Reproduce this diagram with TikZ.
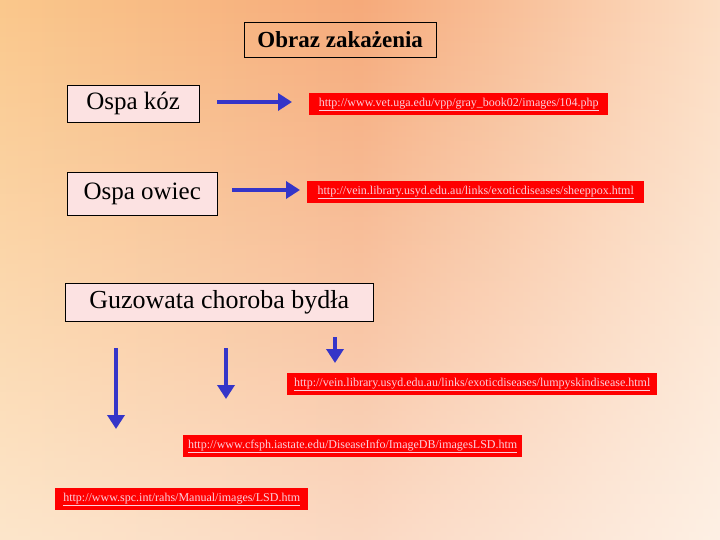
\documentclass[tikz,border=0pt]{standalone}
\usepackage{fontspec}
\setmainfont{Liberation Serif}
\usetikzlibrary{fadings,arrows.meta}
\definecolor{arr}{HTML}{3535C8}
\definecolor{lbl}{HTML}{FCE2E2}
\definecolor{urlc}{HTML}{FAD0DC}
\tikzset{
 lab/.style={draw=black,fill=lbl,font=\fontsize{25}{27}\selectfont,inner sep=0pt,anchor=north west},
 url/.style={fill=red,text=urlc,font=\fontsize{12}{14}\selectfont,inner sep=0pt,anchor=north west},
 arrw/.style={draw=arr,line width=4pt,-{Triangle[length=14pt,width=17pt]}},
}
\newcommand{\ul}[1]{\underline{#1}}
\begin{document}
\begin{tikzpicture}[x=1pt,y=-1pt]
\useasboundingbox (0,0) rectangle (720,540);
\fill[left color={rgb,255:red,250;green,200;blue,140},right color={rgb,255:red,252;green,222;blue,196},middle color={rgb,255:red,246;green,170;blue,122}] (0,0) rectangle (720,540);
\fill[white,opacity=0.55,path fading=north] (0,0) rectangle (720,540);
\node[lab,draw=black,fill=none,font=\bfseries\fontsize{23}{25}\selectfont,minimum width=192pt,minimum height=35pt] (t) at (244,22) {Obraz zakażenia};
\node[lab,minimum width=132pt,minimum height=37pt] (a) at (67,85) {Ospa kóz};
\node[lab,minimum width=150pt,minimum height=43pt] (b) at (67,172) {Ospa owiec};
\node[lab,font=\fontsize{26}{28}\selectfont,minimum width=308pt,minimum height=38pt] (c) at (65,283) {Guzowata choroba bydła};
\node[url,minimum width=299pt,minimum height=22pt] (u1) at (309,93) {\ul{http://www.vet.uga.edu/vpp/gray\_book02/images/104.php}};
\node[url,minimum width=337pt,minimum height=22pt] (u2) at (307,181) {\ul{http://vein.library.usyd.edu.au/links/exoticdiseases/sheeppox.html}};
\node[url,minimum width=370pt,minimum height=22pt] (u3) at (287,373) {\ul{http://vein.library.usyd.edu.au/links/exoticdiseases/lumpyskindisease.html}};
\node[url,minimum width=339pt,minimum height=22pt] (u4) at (183,435) {\ul{http://www.cfsph.iastate.edu/DiseaseInfo/ImageDB/imagesLSD.htm}};
\node[url,minimum width=253pt,minimum height=22pt] (u5) at (55,488) {\ul{http://www.spc.int/rahs/Manual/images/LSD.htm}};
\coordinate (h1s) at (217,102); \coordinate (h1e) at (292,102);
\coordinate (h2s) at (232,190); \coordinate (h2e) at (300,190);
\coordinate (v1s) at (335,337); \coordinate (v1e) at (335,363);
\coordinate (v2s) at (226,348); \coordinate (v2e) at (226,399);
\coordinate (v3s) at (116,348); \coordinate (v3e) at (116,429);
\draw[arrw] (h1s) -- (h1e);
\draw[arrw] (h2s) -- (h2e);
\draw[arrw] (v1s) -- (v1e);
\draw[arrw] (v2s) -- (v2e);
\draw[arrw] (v3s) -- (v3e);
\end{tikzpicture}
\end{document}
